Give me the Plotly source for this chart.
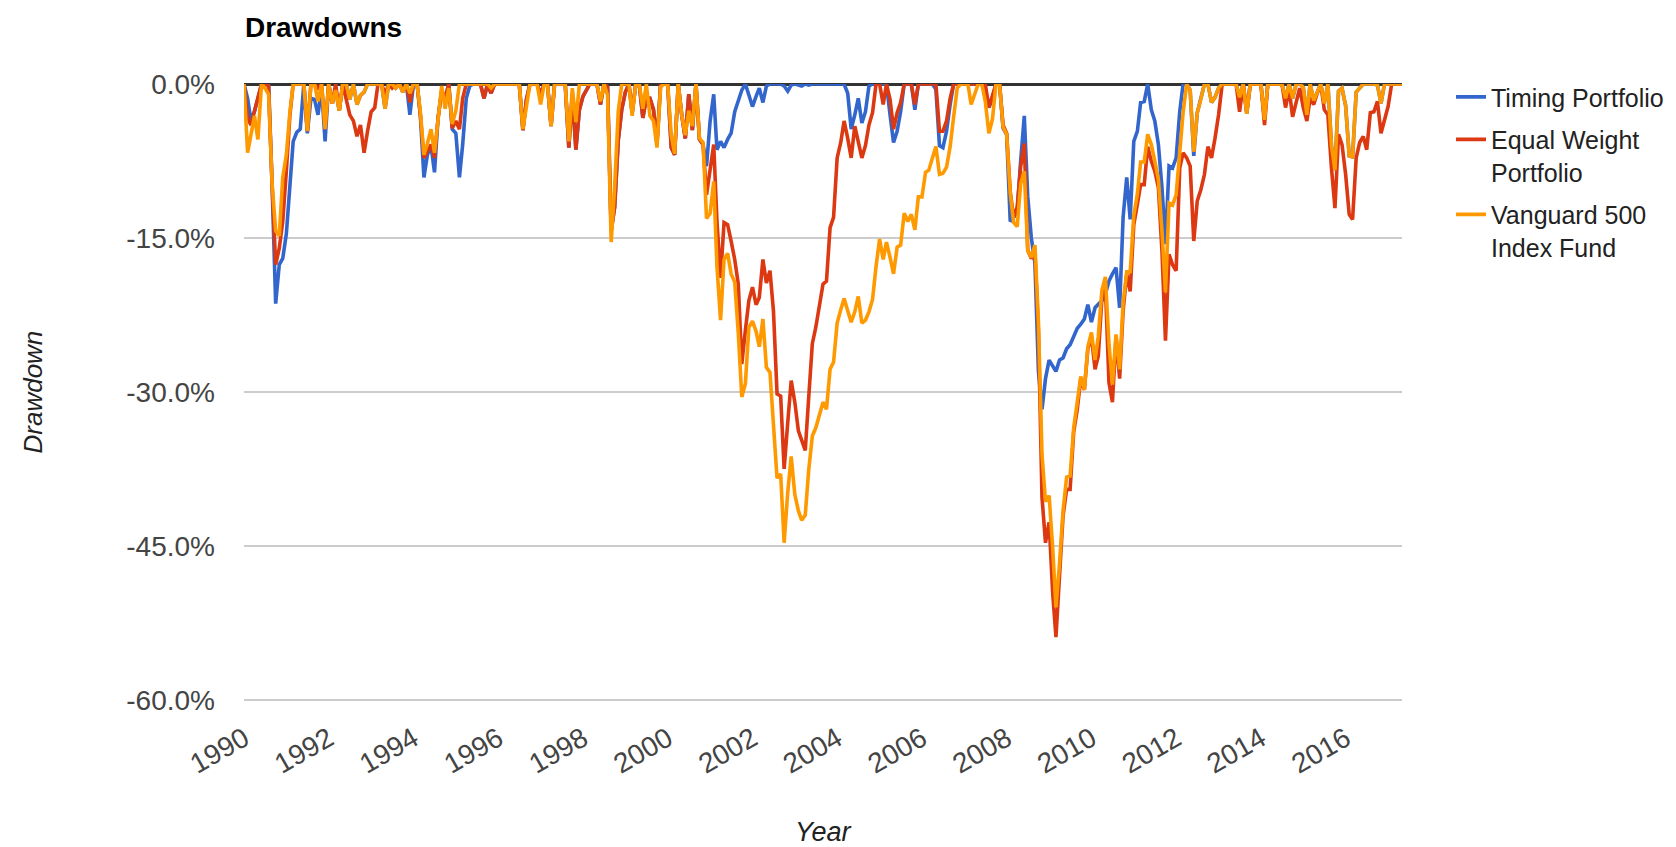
import pandas as pd
import plotly.graph_objects as go

# ---------------- data (drawdown in %, month-end, Dec-1989 .. Apr-2017) ----------------
timing_portfolio = [
    0,
    -1.4, -3.5, -2.7, -1.4, 0, 0, 0, -10.1, -21.4, -17.6, -17.0, -14.6,          # 1990
    -10.1, -5.6, -4.7, -4.4, 0, -4.8, -1.4, -1.5, -3.0, -0.4, -5.6, 0,           # 1991
    -1.9, -0.6, -2.6, 0, 0, -1.5, 0, -2.0, -1.1, -0.8, 0, 0,                     # 1992
    0, 0, 0, -2.4, 0, 0, -0.4, 0, -0.8, 0, -3.0, 0,                              # 1993
    0, -3.0, -9.1, -6.9, -6.0, -8.6, -3.3, -0.7, -1.4, 0, -4.4, -4.8,            # 1994
    -9.1, -5.9, -1.4, -0.2, 0, 0, 0, -1.4, 0, -0.9, 0, 0,                        # 1995
    0, 0, 0, 0, 0, 0, -4.5, -1.5, 0, 0, 0, -1.0,                                 # 1996
    0, 0, -4.1, 0, 0, 0, 0, -6.2, -1.0, -6.4, -2.5, -1.2,                        # 1997
    -0.5, 0, 0, 0, -2.0, 0, -0.3, -14.3, -12.0, -5.5, -2.5, -0.8,                # 1998
    0, -2.8, 0, 0, -3.3, -1.4, -1.4, -2.5, -5.8, 0, 0, 0,                        # 1999
    -6.2, -6.9, 0, -3.0, -5.3, -1.0, -4.5, 0, -5.4, -5.9, -8.0, -3.6,            # 2000
    -1.0, -6.4, -5.6, -6.2, -5.4, -4.8, -2.7, -1.5, -0.6, 0, -1.0, -2.2,         # 2001
    -1.2, -0.4, -1.8, -0.2, 0, 0, 0, 0, -0.2, -0.7, -0.1, 0,                     # 2002
    -0.1, -0.2, 0, -0.1, 0, 0, 0, 0, 0, 0, 0, 0,                                 # 2003
    0, 0, -0.9, -4.4, -3.0, -1.4, -3.8, -2.7, -0.2, 0, 0, 0,                     # 2004
    0, 0, -3.0, -5.7, -4.6, -2.7, 0, 0, 0, -2.5, 0, 0,                           # 2005
    0, 0, 0, -0.5, -6.0, -6.2, -4.6, -2.0, 0, 0, 0, 0,                           # 2006
    0, 0, 0, 0, 0, -1.0, -2.3, -1.4, 0, 0, -4.3, -4.9,                           # 2007
    -13.4, -13.0, -12.4, -7.5, -3.1, -11.0, -15.0, -17.5, -28.0, -31.7, -28.7, -26.9,  # 2008
    -27.4, -28.0, -26.9, -26.7, -25.8, -25.4, -24.6, -23.8, -23.4, -22.9, -21.5, -23.2,  # 2009
    -21.8, -21.5, -21.1, -20.5, -19.2, -18.5, -17.9, -21.8, -13.0, -9.1, -13.2, -5.6,    # 2010
    -4.6, -1.8, -1.7, 0, -2.5, -3.6, -5.9, -10.1, -15.6, -8.0, -8.2, -7.2,       # 2011
    -2.7, 0, 0, -0.6, -7.0, -2.8, -1.5, 0, 0, -1.8, -1.3, -0.4,                  # 2012
    0, 0, 0, 0, 0, -1.3, 0, -2.9, 0, 0, 0, 0,                                    # 2013
    -3.5, 0, 0, 0, 0, 0, -1.4, 0, -1.4, 0, 0, -0.3,                              # 2014
    -3.0, 0, -1.6, -0.7, 0, -1.9, 0, -6.0, -8.4, -0.7, -0.4, -2.1,               # 2015
    -7.0, -7.1, -0.8, -0.4, 0, 0, 0, 0, -0.1, -1.9, 0, 0,                        # 2016
    0, 0, 0, 0,                                                                  # 2017
]

equal_weight_portfolio = [
    0,
    -3.3, -4.0, -2.7, -1.4, 0, 0, -0.2, -10.1, -17.6, -16.0, -13.4, -8.5,        # 1990
    -3.0, 0, 0, 0, 0, -4.6, 0, 0, -0.4, 0, -4.4, 0,                              # 1991
    -1.9, 0, -2.6, 0, -1.5, -3.0, -3.6, -5.1, -4.0, -6.7, -4.6, -2.7,            # 1992
    -2.3, 0, 0, -1.0, 0, -0.4, 0, 0, -0.6, 0, -1.8, 0,                           # 1993
    0, -3.0, -7.2, -6.5, -5.9, -7.2, -3.3, -0.6, -1.4, 0, -4.3, -3.6,            # 1994
    -4.4, -1.4, 0, 0, 0, 0, 0, -1.4, 0, -0.9, 0, 0,                              # 1995
    0, 0, 0, 0, 0, 0, -4.5, -1.5, 0, 0, 0, -1.0,                                 # 1996
    0, 0, -4.1, 0, 0, 0, 0, -6.2, -1.0, -6.4, -2.5, -1.2,                        # 1997
    -0.5, 0, 0, 0, -2.0, 0, -0.3, -14.3, -12.0, -5.5, -2.5, -0.8,                # 1998
    0, -2.8, 0, 0, -3.3, -1.4, -1.4, -2.5, -5.8, 0, 0, 0,                        # 1999
    -6.2, -6.9, 0, -3.0, -5.3, -1.0, -4.5, 0, -5.4, -5.9, -10.8, -8.5,           # 2000
    -5.9, -13.4, -18.9, -13.5, -13.7, -15.3, -17.1, -19.5, -27.3, -24.0, -21.1, -19.8,  # 2001
    -21.5, -20.8, -17.1, -19.4, -18.2, -22.1, -30.2, -30.4, -37.5, -33.0, -28.9, -31.0,  # 2002
    -33.8, -34.7, -35.7, -30.5, -25.3, -23.7, -21.5, -19.5, -19.2, -14.0, -13.0, -7.2,   # 2003
    -5.7, -3.6, -5.3, -7.2, -4.1, -5.5, -7.2, -6.0, -4.0, -2.8, 0, 0,            # 2004
    -2.0, 0, -1.5, -4.4, -2.8, -1.8, 0, 0, 0, -2.0, 0, 0,                        # 2005
    0, 0, 0, 0, -4.6, -4.6, -3.6, -1.4, 0, 0, 0, 0,                              # 2006
    0, 0, 0, 0, 0, 0, -2.3, -1.0, 0, 0, -4.0, -4.8,                              # 2007
    -10.5, -13.0, -12.0, -8.0, -5.8, -16.2, -17.0, -16.5, -24.0, -40.3, -44.7, -42.7,  # 2008
    -49.6, -53.9, -47.7, -42.1, -39.5, -39.5, -33.9, -31.7, -28.7, -29.8, -25.8, -24.6,  # 2009
    -27.8, -26.5, -20.9, -19.6, -29.1, -31.0, -24.6, -28.7, -22.1, -18.5, -20.2, -13.7,  # 2010
    -11.7, -9.8, -9.8, -6.1, -7.5, -8.5, -10.1, -16.3, -25.0, -16.6, -17.6, -18.2,       # 2011
    -8.2, -6.7, -7.2, -8.0, -15.3, -11.4, -10.3, -8.8, -6.1, -7.2, -5.3, -3.0,   # 2012
    0, 0, 0, 0, 0, -2.7, 0, -2.7, 0, 0, 0, 0,                                    # 2013
    -4.0, 0, 0, 0, 0, 0, -2.3, -0.5, -3.2, -1.8, -0.4, -2.3,                     # 2014
    -3.6, -1.4, -2.0, -0.9, 0, -2.5, -3.0, -8.2, -12.1, -4.9, -5.9, -8.8,        # 2015
    -12.7, -13.2, -7.2, -5.7, -5.1, -6.4, -2.8, -2.7, -1.7, -4.8, -3.5, -2.2,    # 2016
    0, 0, 0, 0,                                                                  # 2017
]

vanguard_500 = [
    0,
    -6.7, -5.0, -3.1, -5.4, 0, -0.4, -1.0, -9.8, -14.3, -14.8, -9.1, -6.9,       # 1990
    -2.7, 0, 0, 0, 0, -4.6, 0, 0, -1.7, 0, -4.4, 0,                              # 1991
    -1.9, -0.6, -2.6, 0, 0, -1.5, 0, -2.0, -1.1, -0.8, 0, 0,                     # 1992
    0, 0, 0, -2.4, 0, 0, -0.4, 0, -0.8, 0, -0.9, 0,                              # 1993
    0, -2.7, -6.9, -5.8, -4.4, -6.7, -3.6, -0.2, -2.4, -0.4, -3.9, -2.6,         # 1994
    0, 0, 0, 0, 0, 0, 0, 0, 0, -0.4, 0, 0,                                       # 1995
    0, 0, 0, 0, 0, 0, -4.4, -2.4, 0, 0, 0, -2.0,                                 # 1996
    0, 0, -4.1, 0, 0, 0, 0, -5.6, -0.4, -3.7, 0, 0,                              # 1997
    0, 0, 0, 0, -1.7, 0, -1.1, -15.4, -10.0, -2.7, 0, 0,                         # 1998
    0, -3.1, 0, 0, -2.4, 0, -3.1, -3.6, -6.2, -0.3, 0, 0,                        # 1999
    -5.0, -6.8, 0, -3.0, -5.0, -2.6, -4.1, 0, -5.3, -5.7, -13.1, -12.6,          # 2000
    -9.5, -17.8, -23.0, -17.1, -16.5, -18.5, -19.3, -24.3, -30.5, -29.2, -23.7, -23.1,   # 2001
    -24.1, -25.6, -22.9, -27.6, -28.1, -33.2, -38.4, -38.0, -44.7, -39.8, -36.3, -40.0,  # 2002
    -41.6, -42.5, -42.0, -37.6, -34.3, -33.5, -32.3, -31.0, -31.7, -27.8, -27.1, -23.3,  # 2003
    -22.0, -20.9, -22.1, -23.2, -22.2, -20.7, -23.3, -23.0, -22.2, -21.0, -17.8, -15.1,  # 2004
    -17.1, -15.4, -16.9, -18.5, -15.9, -15.7, -12.6, -13.4, -12.7, -14.2, -11.0, -11.0,  # 2005
    -8.6, -8.4, -7.2, -6.1, -8.8, -8.7, -8.1, -6.1, -3.2, -0.4, 0, 0,            # 2006
    0, -2.0, -1.0, 0, 0, -1.7, -4.8, -3.4, 0, 0, -4.2, -4.9,                     # 2007
    -10.6, -13.5, -13.9, -9.7, -8.5, -16.2, -16.9, -15.7, -23.2, -36.1, -40.7, -40.1,  # 2008
    -45.2, -51.0, -46.7, -41.6, -38.3, -38.2, -33.5, -31.1, -28.5, -29.8, -25.6, -24.2,  # 2009
    -26.9, -24.6, -20.1, -18.8, -25.3, -29.3, -24.4, -27.8, -21.3, -18.3, -18.3, -12.8,  # 2010
    -10.7, -7.6, -7.6, -4.9, -5.9, -7.5, -9.3, -14.3, -20.3, -11.6, -11.8, -10.8,        # 2011
    -6.8, -2.8, 0, -0.6, -6.6, -2.8, -1.5, 0, 0, -1.8, -1.3, -0.4,               # 2012
    0, 0, 0, 0, 0, -1.3, 0, -2.9, 0, 0, 0, 0,                                    # 2013
    -3.5, 0, 0, 0, 0, 0, -1.4, 0, -1.4, 0, 0, -0.3,                              # 2014
    -3.0, 0, -1.6, -0.7, 0, -1.9, 0, -6.0, -8.4, -0.7, -0.4, -2.1,               # 2015
    -7.0, -7.1, -0.8, -0.4, 0, 0, 0, 0, -0.1, -1.9, 0, 0,                        # 2016
    0, 0, 0, 0,                                                                  # 2017
]

series_names = ["Timing Portfolio", "Equal Weight<br>Portfolio", "Vanguard 500<br>Index Fund"]
y_tick_values = [0, -15, -30, -45, -60]
y_tick_labels = ["0.0%", "-15.0%", "-30.0%", "-45.0%", "-60.0%"]
x_tick_years = list(range(1990, 2017, 2))
x_tick_labels = [str(y) for y in x_tick_years]

# ---------------- figure ----------------
dates = pd.date_range("1989-12-31", periods=len(vanguard_500), freq="ME")
colors = ["#3366CC", "#DC3912", "#FF9900"]

fig = go.Figure()
for i, (name, vals, col) in enumerate(zip(series_names,
                                          [timing_portfolio, equal_weight_portfolio, vanguard_500],
                                          colors)):
    fig.add_trace(go.Scatter(x=dates, y=vals, mode="lines", name=name, legendgroup=f"g{i}",
                             line=dict(color=col, width=3.6)))

FONT = "Arial, 'Liberation Sans', Arimo, sans-serif"
fig.update_layout(
    width=1676, height=847,
    margin=dict(l=244, r=274, t=84, b=146, autoexpand=False),
    paper_bgcolor="white", plot_bgcolor="white",
    font=dict(family=FONT, size=28, color="#444"),
    title=dict(text="Drawdowns", x=245 / 1676, xanchor="left", xref="container",
               y=1 - 27 / 847, yanchor="middle", yref="container",
               font=dict(family=FONT, size=28, color="#000", weight=700)),
    xaxis=dict(type="date", range=[dates[0], dates[-1]],
               tickvals=[f"{y}-01-01" for y in x_tick_years], ticktext=x_tick_labels,
               tickangle=-30, showgrid=False, zeroline=False, showline=False,
               ticks="", tickfont=dict(size=28, color="#444"), ticklabelstandoff=15),
    yaxis=dict(range=[-60.12, 0], tickvals=y_tick_values, ticktext=y_tick_labels,
               showgrid=True, gridcolor="#cccccc", gridwidth=2,
               zeroline=True, zerolinecolor="#333333", zerolinewidth=2.5,
               showline=False, ticks="", tickfont=dict(size=28, color="#444"),
               ticklabelstandoff=28),
    legend=dict(x=(1451 - 244) / 1158, xanchor="left", y=1.016, yanchor="top",
                font=dict(family=FONT, size=25, color="#222"),
                valign="top", bgcolor="rgba(0,0,0,0)", itemwidth=30,
                traceorder="grouped", tracegroupgap=7),
    annotations=[
        dict(text="<i>Year</i>", x=0.5, xref="paper", y=-(832 - 701) / 617, yref="paper",
             showarrow=False, font=dict(family=FONT, size=27, color="#222"),
             xanchor="center", yanchor="middle"),
        dict(text="<i>Drawdown</i>", x=(32 - 244) / 1158, xref="paper", y=0.5, yref="paper",
             showarrow=False, textangle=-90, font=dict(family=FONT, size=26, color="#222"),
             xanchor="center", yanchor="middle"),
    ],
)

fig.write_html("out.html", config={"displayModeBar": False},
               post_script="document.body.style.margin='0';document.body.style.overflow='hidden';")
